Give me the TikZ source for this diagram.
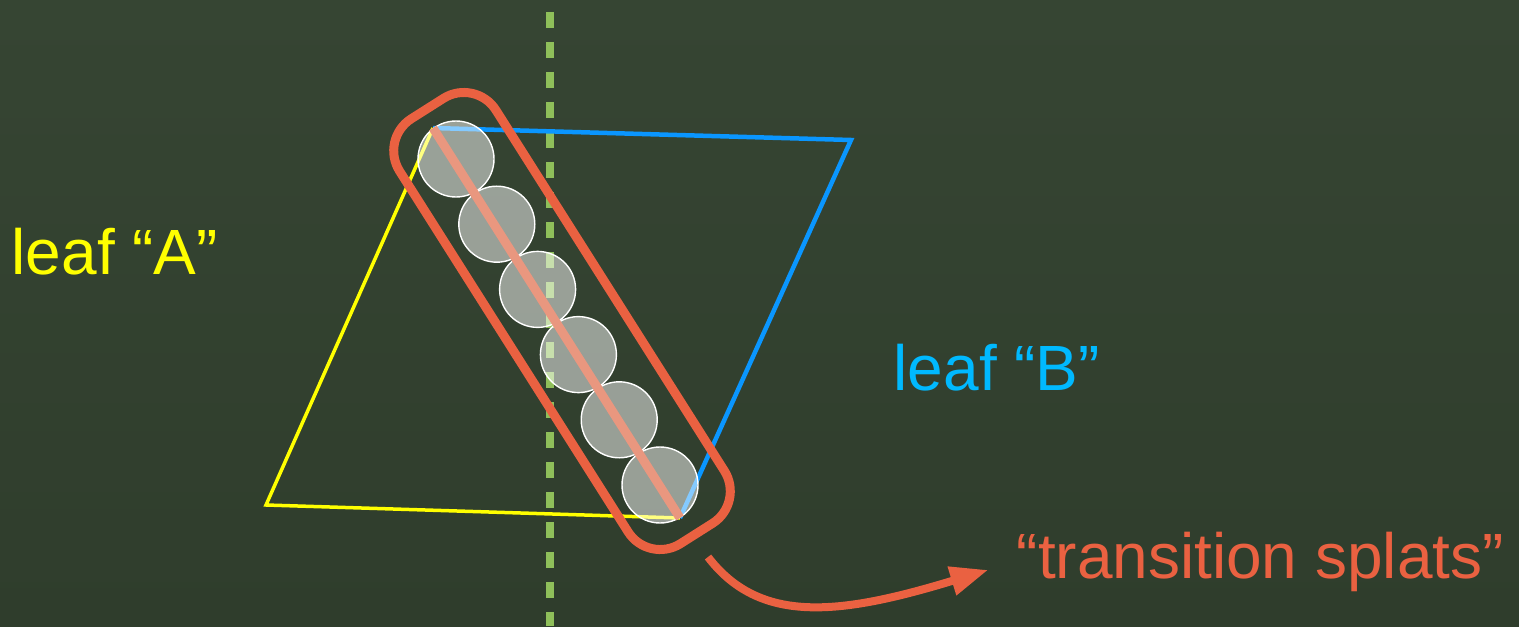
\documentclass[tikz,border=0pt]{standalone}
\usepackage{fontspec}
\setmainfont{Liberation Sans}
\usepackage{xcolor}
\usepackage{tikz}
\usetikzlibrary{arrows.meta,calc}
\definecolor{fundoalto}{HTML}{364533}
\definecolor{fundobaixo}{HTML}{2F3D2C}
\definecolor{amarelo}{HTML}{FFFF00}
\definecolor{azul}{HTML}{0A96FF}
\definecolor{azulclaro}{HTML}{00B9FF}
\definecolor{laranja}{HTML}{EA6141}
\definecolor{salmao}{HTML}{E9977F}
\definecolor{verde}{HTML}{8FBF5A}
\tikzset{
  rotulo/.style={anchor=base west, inner sep=0pt, font=\fontsize{18.2}{22}\selectfont},
  mancha/.style={circle, minimum size=7.6mm, inner sep=0pt, fill=white, fill opacity=0.5,
    draw=white, line width=0.4pt},
  capsula/.style={rectangle, rounded corners=3.8mm, draw=laranja, line width=0.9mm,
    minimum width=50.3mm, minimum height=11.4mm, inner sep=0pt},
  seta/.style={-{Triangle[length=3.8mm,width=2.8mm]}, draw=laranja, line width=0.8mm},
  divisa/.style={draw=verde, line width=0.8mm, dash pattern=on 1.6mm off 1.4mm, dash phase=1.8mm},
}

\begin{document}
\begin{tikzpicture}
    \shade[top color=fundoalto, bottom color=fundobaixo] (0,0) rectangle (15.19,6.26);
    \useasboundingbox (0,0) rectangle (15.19,6.26);
    \coordinate (topo) at (4.33,4.98);
    \coordinate (esq) at (2.66,1.21);
    \coordinate (baixo) at (6.80,1.08);
    \coordinate (dir) at (8.51,4.86);
    \coordinate (corte) at (5.50,6.26);
    \coordinate (corte2) at (5.50,0);
    \draw[divisa] (corte) -- (corte2);
    \draw[amarelo, line width=0.35mm] (topo) -- (esq) -- (baixo);
    \draw[azul, line width=0.45mm] (topo) -- (dir) -- (baixo);
    \foreach \i in {0,...,5}
      \node[mancha] (m\i) at ({4.56+0.408*\i},{4.67-0.652*\i}) {};
    \draw[salmao, line width=0.9mm] (topo) -- (baixo);
    \node[capsula, rotate=-57.65] (capsula) at (5.62,3.05) {};
    \node[rotulo, text=amarelo] (folhaA) at (0.11,3.52) {leaf “A”};
    \node[rotulo, text=azulclaro] (folhaB) at (8.93,2.36) {leaf “B”};
    \node[rotulo, text=laranja] (transicao) at (10.16,0.48) {“transition splats”};
    \coordinate (saida) at (7.08,0.69);
    \draw[seta, shorten >=2.9mm] (saida) .. controls (7.60,0.01) and (8.40,0.11) .. (transicao.west);
  \end{tikzpicture}
\end{document}
